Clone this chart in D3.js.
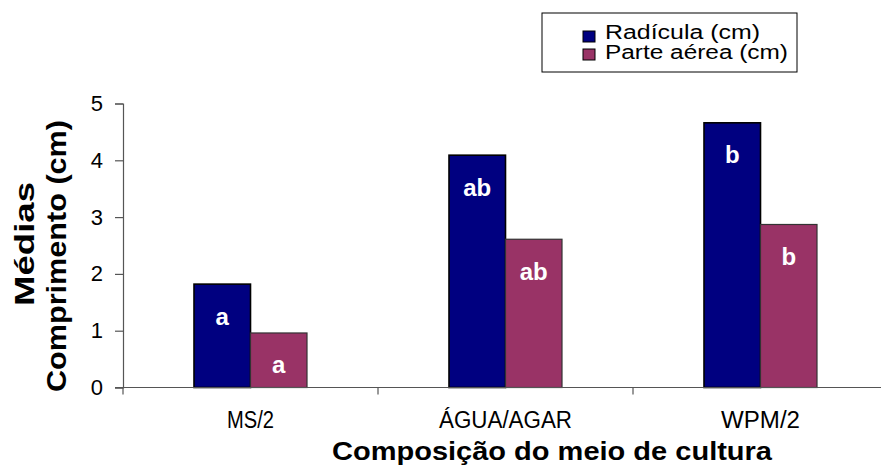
<!DOCTYPE html>
<html>
<head>
<meta charset="utf-8">
<script src="https://cdn.jsdelivr.net/npm/d3@7"></script>
<style>
  html, body { margin: 0; padding: 0; background: #fff; }
  svg { display: block; }
  text { font-family: "Liberation Sans", Arial, sans-serif; }
</style>
</head>
<body>
<svg id="chart" width="881" height="466"></svg>
<script>
const categories = ["MS/2", "ÁGUA/AGAR", "WPM/2"];
const seriesNames = ["Radícula (cm)", "Parte aérea (cm)"];
const radicula = [1.82, 4.09, 4.66];
const parteAerea = [0.96, 2.61, 2.87];
const radiculaLetters = ["a", "ab", "b"];
const parteAereaLetters = ["a", "ab", "b"];
const yTicks = [0, 1, 2, 3, 4, 5];
const xTitle = "Composição do meio de cultura";
const yTitleLines = ["Médias", "Comprimento (cm)"];

const colors = ["#000080", "#993366"];
const svg = d3.select("#chart");

const plotLeft = 123, plotRight = 888, plotTop = 103.5, plotBottom = 387.5;
const x0 = d3.scaleBand().domain(categories).range([plotLeft, plotRight]).padding(0);
const bw = x0.bandwidth();
const barW = 56.5;
const x1 = d3.scaleBand().domain([0, 1]).range([bw / 2 - barW, bw / 2 + barW]).padding(0);
const y = d3.scaleLinear().domain([0, 5]).range([plotBottom, plotTop]);

const series = [radicula, parteAerea];
const letters = [radiculaLetters, parteAereaLetters];

// Bars
categories.forEach((c, i) => {
  const g = svg.append("g").attr("transform", `translate(${x0(c)},0)`);
  series.forEach((s, j) => {
    g.append("rect")
      .attr("x", x1(j))
      .attr("y", y(s[i]))
      .attr("width", x1.bandwidth())
      .attr("height", y(0) - y(s[i]))
      .attr("fill", colors[j])
      .attr("stroke", j === 0 ? "#000" : "#333")
      .attr("stroke-width", j === 0 ? 1.6 : 1.2);
    g.append("text")
      .attr("x", x1(j) + x1.bandwidth() / 2)
      .attr("y", y(s[i]) + 32)
      .attr("dy", "0.35em")
      .attr("text-anchor", "middle")
      .attr("fill", "#fff")
      .attr("font-weight", "bold")
      .attr("font-size", 24)
      .text(letters[j][i]);
  });
});

// Y axis
const yAxis = d3.axisLeft(y).tickValues(yTicks).tickSize(8).tickPadding(12).tickFormat(d3.format("d"));
const ya = svg.append("g").attr("transform", `translate(${plotLeft},0)`).call(yAxis);
ya.select(".domain").attr("stroke", "#555").attr("stroke-width", 1.2);
ya.selectAll(".tick line").attr("stroke", "#555").attr("stroke-width", 1.2);
ya.selectAll(".tick text").attr("font-size", 22).attr("fill", "#000")
  .attr("font-family", "Liberation Sans, Arial, sans-serif");

// X axis line and separator ticks
const xa = svg.append("g");
xa.append("line").attr("x1", plotLeft - 8).attr("x2", 881).attr("y1", plotBottom).attr("y2", plotBottom)
  .attr("stroke", "#555").attr("stroke-width", 1.2);
const sepTicks = [plotLeft].concat(categories.slice(1).map(c => x0(c)));
xa.selectAll("line.sep").data(sepTicks).enter().append("line").attr("class", "sep")
  .attr("x1", d => d).attr("x2", d => d).attr("y1", plotBottom).attr("y2", plotBottom + 7)
  .attr("stroke", "#555").attr("stroke-width", 1.2);
const xLabelWidths = [47, 133, 79];
xa.selectAll("text.cat").data(categories).enter().append("text").attr("class", "cat")
  .attr("x", d => x0(d) + bw / 2)
  .attr("y", 428)
  .attr("text-anchor", "middle")
  .attr("font-size", 23)
  .attr("textLength", (d, i) => xLabelWidths[i])
  .attr("lengthAdjust", "spacingAndGlyphs")
  .text(d => d);

// X title
svg.append("text")
  .attr("x", 552).attr("y", 460)
  .attr("text-anchor", "middle")
  .attr("font-size", 26).attr("font-weight", "bold")
  .attr("textLength", 440).attr("lengthAdjust", "spacingAndGlyphs")
  .text(xTitle);

// Y title (two lines, rotated)
const yTitlePos = [{x: 34, cy: 244, len: 124}, {x: 66, cy: 256, len: 272}];
yTitleLines.forEach((t, i) => {
  svg.append("text")
    .attr("transform", `translate(${yTitlePos[i].x},${yTitlePos[i].cy}) rotate(-90)`)
    .attr("text-anchor", "middle")
    .attr("font-size", 27).attr("font-weight", "bold")
    .attr("textLength", yTitlePos[i].len).attr("lengthAdjust", "spacingAndGlyphs")
    .text(t);
});

// Legend
const lg = svg.append("g");
lg.append("rect").attr("x", 542).attr("y", 13).attr("width", 255).attr("height", 59)
  .attr("fill", "#fff").attr("stroke", "#000").attr("stroke-width", 1);
const legendLens = [155, 183];
seriesNames.forEach((n, i) => {
  lg.append("rect").attr("x", 583).attr("y", 31 + i * 18).attr("width", 12).attr("height", 11)
    .attr("fill", colors[i]).attr("stroke", "#000").attr("stroke-width", 1);
  lg.append("text").attr("x", 605).attr("y", 38.5 + i * 20)
    .attr("font-size", 20)
    .attr("textLength", legendLens[i]).attr("lengthAdjust", "spacingAndGlyphs")
    .text(n);
});
</script>
</body>
</html>
